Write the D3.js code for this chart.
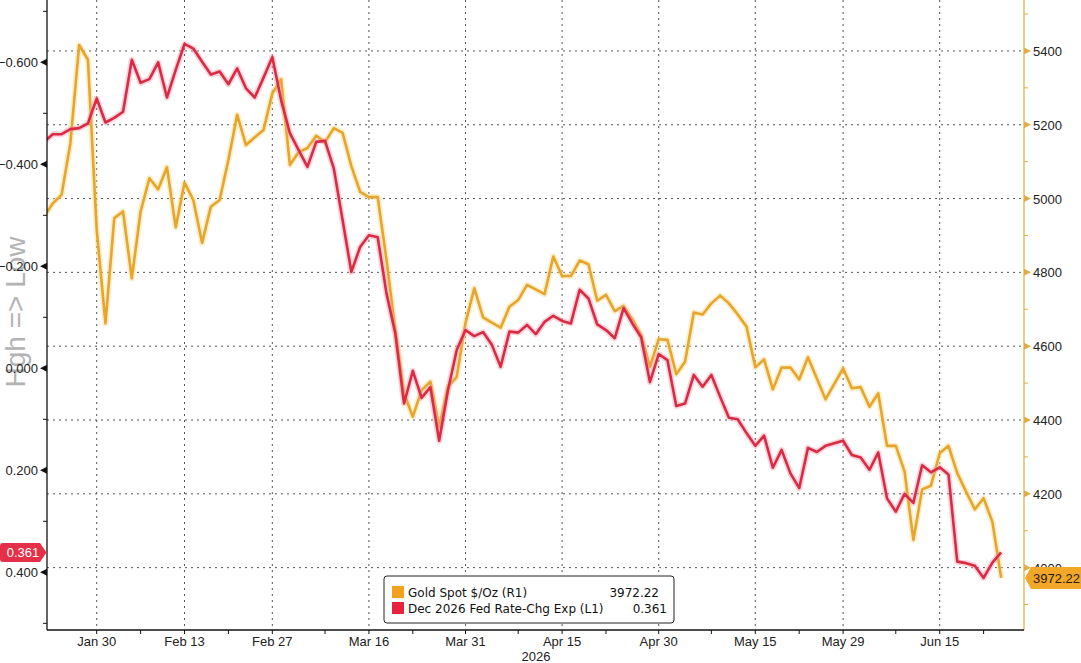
<!DOCTYPE html>
<html lang="en">
<head>
<meta charset="UTF-8">
<title>Gold vs Fed rate-change expectations</title>
<style>
  body { margin: 0; background: #fff; }
  svg { display: block; font-family: "Liberation Sans", Arial, sans-serif; }
  .grid line { stroke: #555; stroke-width: 1; stroke-dasharray: 2 4; }
  .tick-label { font-size: 13px; fill: #222; }
  .legend-text { font-family: "DejaVu Sans", sans-serif; font-size: 12px; fill: #111; }
</style>
</head>
<body>
<div id="chart"></div>
<script src="https://d3js.org/d3.v7.min.js"></script>
<script>
// weekdays from Jan 22 to Jun 24 2026 (x categories)
const startDay = new Date(2026, 0, 22);
const endDay = new Date(2026, 5, 25);
const days = d3.timeDay.range(startDay, endDay).filter(d => d.getDay() !== 0 && d.getDay() !== 6);

// Gold Spot $/Oz (R1)
const goldValues = [
  4951, 4987, 5010, 5150, 5416, 5376, 4915, 4662, 4947, 4965,
  4784, 4965, 5055, 5025, 5085, 4922, 5043, 4996, 4880, 4978,
  4996, 5105, 5227, 5145, 5166, 5186, 5285, 5323, 5091, 5126,
  5137, 5170, 5153, 5191, 5178, 5088, 5018, 5004, 5004, 4834,
  4644, 4472, 4409, 4481, 4504, 4382, 4490, 4517, 4663, 4757,
  4678, 4664, 4650, 4707, 4725, 4766, 4754, 4741, 4843, 4790,
  4790, 4832, 4822, 4723, 4739, 4695, 4709, 4673, 4630, 4544,
  4619, 4617, 4524, 4558, 4691, 4686, 4716, 4737, 4716, 4686,
  4653, 4543, 4564, 4483, 4542, 4542, 4510, 4570, 4513, 4456,
  4498, 4540, 4486, 4489, 4436, 4472, 4330, 4330, 4260, 4075,
  4212, 4222, 4310, 4330, 4256, 4206, 4158, 4188, 4124, 3972.22
];

// Dec 2026 Fed Rate-Chg Exp (L1)
const fedValues = [
  -0.444, -0.459, -0.459, -0.469, -0.471, -0.480, -0.529, -0.482, -0.491, -0.503,
  -0.605, -0.560, -0.567, -0.600, -0.531, -0.585, -0.636, -0.627, -0.601, -0.576,
  -0.582, -0.557, -0.588, -0.549, -0.531, -0.570, -0.610, -0.526, -0.461, -0.428,
  -0.395, -0.444, -0.446, -0.392, -0.291, -0.189, -0.238, -0.261, -0.257, -0.147,
  -0.069, 0.069, 0.005, 0.058, 0.037, 0.142, 0.043, -0.036, -0.075, -0.063,
  -0.071, -0.046, -0.003, -0.072, -0.070, -0.085, -0.067, -0.091, -0.103, -0.093,
  -0.088, -0.154, -0.137, -0.086, -0.075, -0.059, -0.118, -0.088, -0.061, 0.027,
  -0.028, -0.016, 0.074, 0.069, 0.013, 0.036, 0.013, 0.056, 0.097, 0.100,
  0.127, 0.152, 0.132, 0.195, 0.160, 0.206, 0.235, 0.156, 0.164, 0.152,
  0.147, 0.142, 0.170, 0.175, 0.199, 0.165, 0.255, 0.281, 0.246, 0.264,
  0.190, 0.204, 0.194, 0.208, 0.379, 0.382, 0.387, 0.411, 0.381, 0.361
];

const dateTicks = ["2026-01-30", "2026-02-13", "2026-02-27", "2026-03-16", "2026-03-31",
                   "2026-04-15", "2026-04-30", "2026-05-15", "2026-05-29", "2026-06-15"];
const dateMinorTicks = ["2026-02-06", "2026-02-20", "2026-03-09", "2026-03-23", "2026-04-08",
                        "2026-04-22", "2026-05-08", "2026-05-22", "2026-06-08", "2026-06-22"];
const leftTicks = [-0.6, -0.4, -0.2, 0, 0.2, 0.4];
const leftMinorTicks = [-0.7, -0.5, -0.3, -0.1, 0.1, 0.3, 0.5];
const rightTicks = [4000, 4200, 4400, 4600, 4800, 5000, 5200, 5400];
const rightMinorTicks = [3900, 4100, 4300, 4500, 4700, 4900, 5100, 5300, 5500];

const legendNames = ["Gold Spot $/Oz (R1)", "Dec 2026 Fed Rate-Chg Exp (L1)"];
const legendValues = ["3972.22", "0.361"];

const W = 1081, H = 663;
const plot = { left: 47, right: 1024, top: 0, bottom: 630 };
const goldColor = "#e6a52c", redColor = "#d92b45";

const svg = d3.select("#chart").append("svg").attr("width", W).attr("height", H);

const x = d3.scaleLinear().domain([0.34, 111.6]).range([plot.left, plot.right]);
const yL = d3.scaleLinear().domain([-0.7222, 0.5131]).range([plot.top, plot.bottom]);
const yR = d3.scaleLinear().domain([3831, 5538]).range([plot.bottom, plot.top]);

const fmtDay = d3.timeFormat("%Y-%m-%d");
const dayIndex = s => days.findIndex(d => fmtDay(d) === s);
const tickLabel = d3.timeFormat("%b %-d");

// rotated side label
svg.append("text")
  .attr("transform", "translate(25,312) rotate(-90)")
  .attr("text-anchor", "middle")
  .style("font-size", "28px")
  .style("fill", "#b3b3b3")
  .text("Hgh => Low");

// gridlines
const grid = svg.append("g").attr("class", "grid");
grid.selectAll(".h").data(rightTicks).enter().append("line")
  .attr("x1", plot.left).attr("x2", plot.right)
  .attr("y1", d => yR(d)).attr("y2", d => yR(d));
grid.selectAll(".v").data(dateTicks).enter().append("line")
  .attr("x1", d => x(dayIndex(d))).attr("x2", d => x(dayIndex(d)))
  .attr("y1", plot.top).attr("y2", plot.bottom);

// lines
svg.append("clipPath").attr("id", "clip").append("rect")
  .attr("x", plot.left).attr("y", plot.top)
  .attr("width", plot.right - plot.left).attr("height", plot.bottom - plot.top);
const lines = svg.append("g").attr("clip-path", "url(#clip)");

const goldLine = d3.line().x((d, i) => x(i)).y(d => yR(d));
const fedLine = d3.line().x((d, i) => x(i)).y(d => yL(d));

[[goldValues, goldLine, goldColor, "#f7d98a"], [fedValues, fedLine, redColor, "#f2a0ad"]].forEach(([vals, gen, col, glow]) => {
  lines.append("path").attr("d", gen(vals))
    .attr("fill", "none").attr("stroke", glow).attr("stroke-width", 6)
    .attr("stroke-opacity", 0.45).attr("stroke-linejoin", "round");
  lines.append("path").attr("d", gen(vals))
    .attr("fill", "none").attr("stroke", col).attr("stroke-width", 2.6)
    .attr("stroke-linejoin", "round");
});

// left axis
const left = svg.append("g");
left.append("line").attr("x1", plot.left).attr("x2", plot.left)
  .attr("y1", plot.top).attr("y2", plot.bottom).attr("stroke", "#111").attr("stroke-width", 1.3);
left.selectAll(".tri").data(leftTicks).enter().append("path")
  .attr("d", d => `M${plot.left},${yL(d) - 3.5}L${plot.left - 7},${yL(d)}L${plot.left},${yL(d) + 3.5}Z`)
  .attr("fill", "#111");
left.selectAll(".minor").data(leftMinorTicks).enter().append("line")
  .attr("x1", plot.left - 4).attr("x2", plot.left)
  .attr("y1", d => yL(d)).attr("y2", d => yL(d)).attr("stroke", "#111");
left.selectAll(".lbl").data(leftTicks).enter().append("text")
  .attr("class", "tick-label")
  .attr("x", 38).attr("y", d => yL(d) + 5)
  .attr("text-anchor", "end")
  .text(d => d3.format(".3f")(d));

// right axis
const right = svg.append("g");
right.append("line").attr("x1", plot.right).attr("x2", plot.right)
  .attr("y1", plot.top).attr("y2", plot.bottom).attr("stroke", "#e2bf6a").attr("stroke-width", 1.5);
right.selectAll(".tri").data(rightTicks).enter().append("path")
  .attr("d", d => `M${plot.right},${yR(d) - 3.5}L${plot.right + 7},${yR(d)}L${plot.right},${yR(d) + 3.5}Z`)
  .attr("fill", "#e0ad45");
right.selectAll(".minor").data(rightMinorTicks).enter().append("line")
  .attr("x1", plot.right).attr("x2", plot.right + 4)
  .attr("y1", d => yR(d)).attr("y2", d => yR(d)).attr("stroke", "#e0ad45");
right.selectAll(".lbl").data(rightTicks).enter().append("text")
  .attr("class", "tick-label")
  .attr("x", 1033).attr("y", d => yR(d) + 5)
  .text(d => d);

// bottom axis
const bottom = svg.append("g");
bottom.append("line").attr("x1", plot.left).attr("x2", plot.right)
  .attr("y1", plot.bottom).attr("y2", plot.bottom).attr("stroke", "#111").attr("stroke-width", 1.3);
bottom.selectAll(".maj").data(dateTicks.concat(dateMinorTicks)).enter().append("line")
  .attr("x1", d => x(dayIndex(d))).attr("x2", d => x(dayIndex(d)))
  .attr("y1", plot.bottom).attr("y2", plot.bottom + 4).attr("stroke", "#111");
bottom.selectAll(".lbl").data(dateTicks).enter().append("text")
  .attr("class", "tick-label")
  .attr("x", d => x(dayIndex(d))).attr("y", 646)
  .attr("text-anchor", "middle")
  .text(d => tickLabel(days[dayIndex(d)]));
bottom.append("text").attr("class", "tick-label")
  .attr("x", 536).attr("y", 661).attr("text-anchor", "middle").text("2026");

// last value tags
const lastFed = fedValues[fedValues.length - 1];
const lastGold = goldValues[goldValues.length - 1];
const fy = yL(lastFed), gy = yR(lastGold);
svg.append("path")
  .attr("d", `M3,${fy - 9.5}H40L46.5,${fy}L40,${fy + 9.5}H3Q0,${fy + 9.5} 0,${fy + 6.5}V${fy - 6.5}Q0,${fy - 9.5} 3,${fy - 9.5}Z`)
  .attr("fill", "#e5304a");
svg.append("text").attr("class", "tick-label")
  .attr("x", 23).attr("y", fy + 4.5).attr("text-anchor", "middle")
  .style("fill", "#fff").text(legendValues[1]);

svg.append("path")
  .attr("d", `M${plot.right + 1},${gy}L${plot.right + 7},${gy - 11}H1081V${gy + 11}H${plot.right + 7}Z`)
  .attr("fill", "#f1a828");
svg.append("text").attr("class", "tick-label")
  .attr("x", 1033).attr("y", gy + 5)
  .style("fill", "#2a1a00").text(legendValues[0]);

// legend
const lg = svg.append("g").attr("transform", "translate(384,576)");
lg.append("rect").attr("width", 290).attr("height", 47).attr("rx", 3)
  .attr("fill", "#fff").attr("stroke", "#222").attr("stroke-width", 1);
const rows = lg.selectAll(".row").data(legendNames).enter().append("g")
  .attr("transform", (d, i) => `translate(0,${10 + i * 16})`);
rows.append("rect").attr("x", 8).attr("y", 0).attr("width", 12).attr("height", 12)
  .attr("fill", (d, i) => i === 0 ? "#f2a21c" : "#e8243c");
rows.append("text").attr("class", "legend-text")
  .attr("x", 24).attr("y", 11).text(d => d);
rows.append("text").attr("class", "legend-text")
  .attr("x", (d, i) => i === 0 ? 275 : 283).attr("y", 11)
  .attr("text-anchor", "end").text((d, i) => legendValues[i]);
</script>
</body>
</html>
